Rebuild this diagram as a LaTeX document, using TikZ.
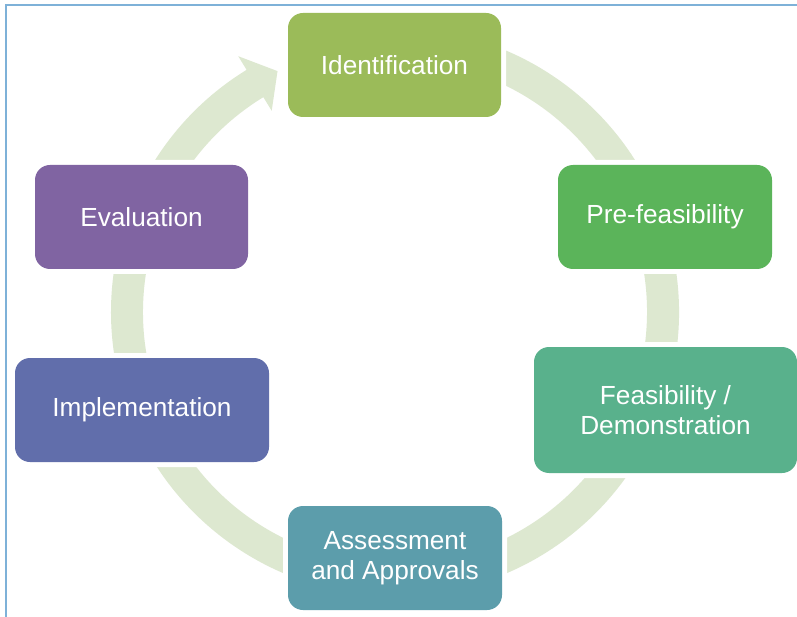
\documentclass[tikz,border=0pt]{standalone}
\usepackage{fontspec}
\setmainfont{Liberation Sans}
\definecolor{cIdent}{HTML}{9BBB59}
\definecolor{cPre}{HTML}{5BB45A}
\definecolor{cFeas}{HTML}{59B18C}
\definecolor{cAssess}{HTML}{5C9DAB}
\definecolor{cImpl}{HTML}{616EAB}
\definecolor{cEval}{HTML}{8064A2}
\definecolor{cRing}{HTML}{DDE8D0}
\definecolor{cFrame}{HTML}{7EB1D8}
\begin{document}
\begin{tikzpicture}[x=1pt,y=-1pt,
  stagebox/.style={rounded corners=15pt, inner sep=0pt, text=white, align=center,
    font=\fontsize{26.2}{29.5}\selectfont,
    preaction={draw=white, line width=10pt}, fill=#1},
  frameline/.style={draw=cFrame, line width=1.5pt}]
\useasboundingbox (0,0) rectangle (797,617);
\fill[white] (0,0) rectangle (797,617);
% frame
\coordinate (ftl) at (6,5);
\coordinate (ftr) at (797,5);
\coordinate (fbl) at (6,617);
\draw[frameline] (ftr) -- (ftl) -- (fbl);
% ring arrow
\begin{scope}[shift={(395,312)}, y=1pt]
\fill[cRing] (100:284) arc[start angle=100, end angle=-238.5, radius=284]
  -- (-238.5:300) -- (-244:268) -- (-238.5:236) -- (-238.5:252)
  arc[start angle=-238.5, end angle=100, radius=252] -- cycle;
\end{scope}
% stages
\node[stagebox=cIdent, minimum width=213pt, minimum height=104pt] (ident) at (394.5,65) {Identification};
\node[stagebox=cPre, minimum width=214pt, minimum height=104pt] (pre) at (665,217) {Pre-feasibility};
\node[stagebox=cFeas, minimum width=263pt, minimum height=126pt] (feas) at (665.5,410) {Feasibility /\\Demonstration};
\node[stagebox=cAssess, minimum width=214pt, minimum height=104pt] (assess) at (395,558) {Assessment\\and Approvals};
\node[stagebox=cImpl, minimum width=254pt, minimum height=104pt] (impl) at (142,410) {Implementation};
\node[stagebox=cEval, minimum width=213pt, minimum height=104pt] (eval) at (141.5,217) {Evaluation};
\end{tikzpicture}
\end{document}
